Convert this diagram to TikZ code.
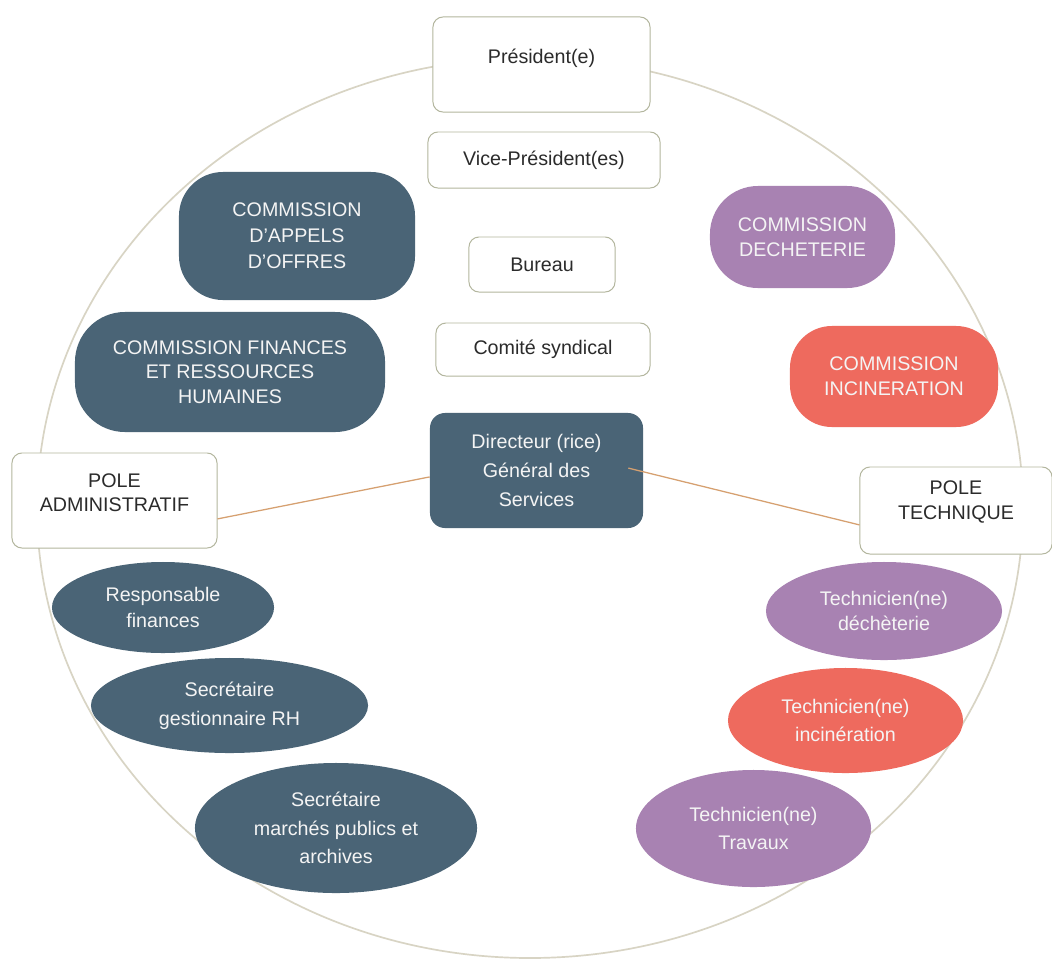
\documentclass[tikz,border=0pt]{standalone}
\usepackage{fontspec}
\setmainfont{Liberation Sans}
\usetikzlibrary{calc,shapes.geometric}
\definecolor{slate}{HTML}{4A6476}
\definecolor{lilac}{HTML}{A882B2}
\definecolor{coral}{HTML}{EE6A5E}
\definecolor{ring}{HTML}{D8D4C4}
\definecolor{edgec}{HTML}{B3B69E}
\definecolor{link}{HTML}{D6A070}
\definecolor{ink}{HTML}{2B2B2B}
\definecolor{paper}{HTML}{F4F4F4}
\begin{document}
\begin{tikzpicture}[x=0.025cm,y=-0.025cm,
  lbl/.style={font=\fontsize{14}{17.5}\selectfont, align=center},
  wlbl/.style={font=\fontsize{14}{20.5}\selectfont, align=center},
  wbox/.style={lbl, draw=edgec, fill=white, rounded corners=0.25cm, text=ink, line width=0.7pt, inner sep=0pt},
  cbox/.style={lbl, inner sep=0pt, text=paper},
  oval/.style={cbox, ellipse},
  conn/.style={draw=link, line width=0.9pt}]
\useasboundingbox (0,0) rectangle (1052,961);
\fill[white] (0,0) rectangle (1052,961);
% ring
\draw[ring, line width=1.2pt] (530,508) ellipse [x radius=493, y radius=450];

% director and poles, with connectors under the boxes
\node[cbox, fill=slate, rounded corners=0.375cm, minimum width=5.325cm, minimum height=2.875cm, wlbl] (dir) at (536.5,470.5) {Directeur (rice)\\Général des\\Services};
\node[wbox, minimum width=5.125cm, minimum height=2.375cm, label={[lbl,text=ink,yshift=0.19cm]center:POLE\\ADMINISTRATIF}] (padmin) at (114.5,500.5) {};
\node[wbox, minimum width=4.8cm, minimum height=2.175cm, label={[lbl,text=ink,yshift=0.21cm]center:POLE\\TECHNIQUE}] (ptech) at (956,510.5) {};
\draw[conn] ([yshift=-0.16cm]dir.west) -- ([yshift=-0.46cm]padmin.east);
\draw[conn] ([xshift=-0.375cm,yshift=0.06cm]dir.east) -- ([yshift=-0.36cm]ptech.west);

% top column
\node[wbox, minimum width=5.425cm, minimum height=2.375cm, label={[lbl,text=ink,yshift=0.16cm]center:Président(e)}] (pres) at (541.5,64.5) {};
\node[wbox, minimum width=5.8cm, minimum height=1.4cm] (vice) at (544,160) {Vice-Président(es)};
\node[wbox, minimum width=3.65cm, minimum height=1.375cm] (bureau) at (542,264.5) {Bureau};
\node[wbox, minimum width=5.35cm, minimum height=1.325cm] (comite) at (543,349.5) {Comité syndical};

% commissions
\node[cbox, fill=slate, rounded corners=1.1cm, minimum width=5.9cm, minimum height=3.2cm, font=\fontsize{14}{18.5}\selectfont] (cao) at (297,236) {COMMISSION\\D'APPELS\\D'OFFRES};
\node[cbox, fill=slate, rounded corners=1.25cm, minimum width=7.75cm, minimum height=3.0cm] (cfrh) at (230,372) {COMMISSION FINANCES\\ET RESSOURCES\\HUMAINES};
\node[cbox, fill=lilac, rounded corners=1.2cm, minimum width=4.625cm, minimum height=2.55cm] (cdech) at (802.5,237) {COMMISSION\\DECHETERIE};
\node[cbox, fill=coral, rounded corners=1.05cm, minimum width=5.2cm, minimum height=2.525cm] (cinc) at (894,376.5) {COMMISSION\\INCINERATION};

% administrative staff
\node[oval, fill=slate, minimum width=5.55cm, minimum height=2.275cm, font=\fontsize{14}{18.5}\selectfont] (rf) at (163,607.5) {Responsable\\finances};
\node[oval, fill=slate, minimum width=6.925cm, minimum height=2.375cm, wlbl] (sgrh) at (229.5,705.5) {Secrétaire\\gestionnaire RH};
\node[oval, fill=slate, minimum width=7.05cm, minimum height=3.25cm, wlbl] (smp) at (336,828) {Secrétaire\\marchés publics et\\archives};

% technical staff
\node[oval, fill=lilac, minimum width=5.9cm, minimum height=2.45cm] (tdech) at (884,611) {Technicien(ne)\\déchèterie};
\node[oval, fill=coral, minimum width=5.875cm, minimum height=2.625cm, wlbl] (tinc) at (845.5,720.5) {Technicien(ne)\\incinération};
\node[oval, fill=lilac, minimum width=5.875cm, minimum height=2.925cm, wlbl] (ttrav) at (753.5,828.5) {Technicien(ne)\\Travaux};
\end{tikzpicture}
\end{document}
